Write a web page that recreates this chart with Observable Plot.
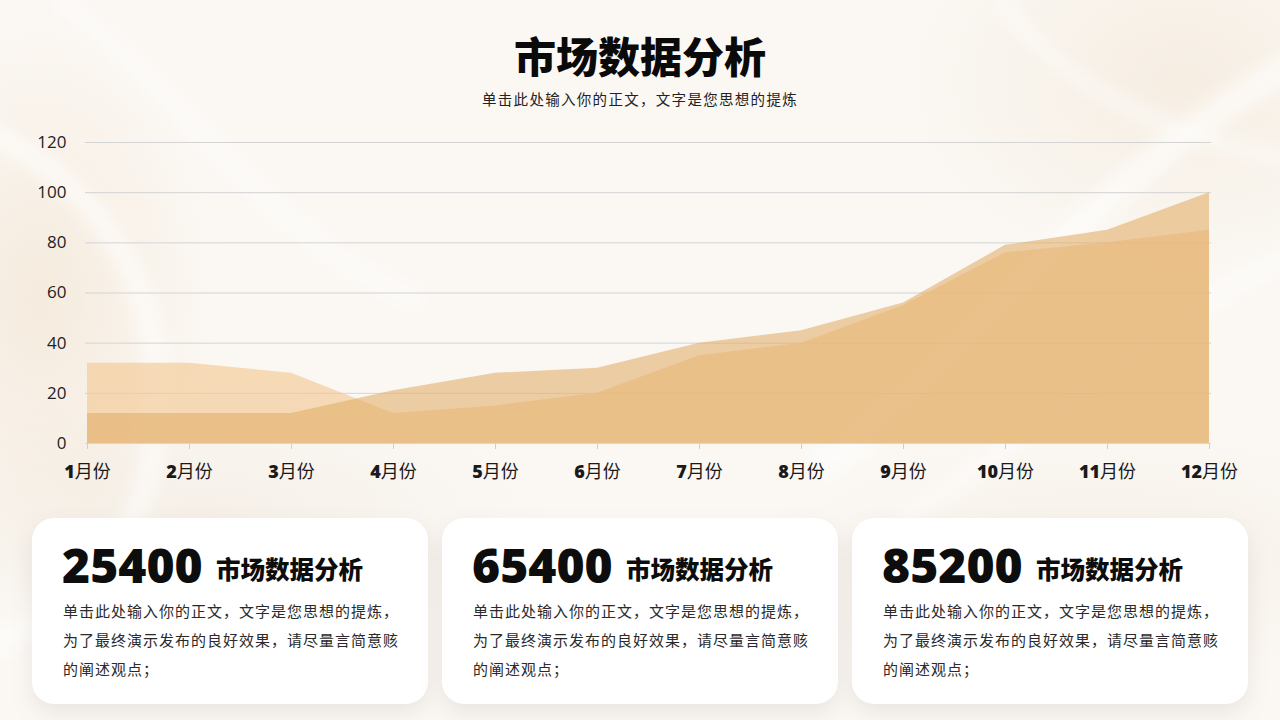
<!DOCTYPE html>
<html><head><meta charset="utf-8">
<script src="https://cdn.jsdelivr.net/npm/d3@7"></script>
<script src="https://cdn.jsdelivr.net/npm/@observablehq/plot@0.6"></script>
<style>
html,body{margin:0;padding:0;}
body{width:1280px;height:720px;overflow:hidden;position:relative;font-family:"Noto Sans CJK SC","Noto Sans",sans-serif;
 background:
  radial-gradient(ellipse 260px 420px at 40px 300px, rgba(240,222,200,0.5), rgba(240,222,200,0) 70%),
  radial-gradient(ellipse 420px 300px at 1180px 80px, rgba(240,225,205,0.45), rgba(240,225,205,0) 70%),
  radial-gradient(ellipse 500px 200px at 1100px 560px, rgba(240,228,212,0.4), rgba(240,228,212,0) 70%),
  radial-gradient(ellipse 500px 200px at 200px 520px, rgba(238,228,216,0.45), rgba(238,228,216,0) 70%),
  #fbf8f4;}
#bg{position:absolute;left:0;top:0;}
#title{position:absolute;left:0;width:1280px;top:27px;text-align:center;font-size:42px;font-weight:900;color:#0a0a0a;line-height:56px;}
#subtitle{position:absolute;left:0;width:1280px;top:88px;text-align:center;font-size:14.5px;letter-spacing:1.3px;color:#222;line-height:22px;}
#chart{position:absolute;left:0;top:120px;}
.card{position:absolute;top:518px;width:396px;height:186px;background:#fff;border-radius:22px;box-shadow:0 10px 22px rgba(120,110,100,0.13);}
.card .num{position:absolute;left:30px;top:19px;font-family:"Open Sans","Noto Sans CJK SC",sans-serif;font-weight:800;font-size:48px;color:#0d0d0d;line-height:56px;letter-spacing:0px;}
.card .ttl{position:absolute;left:184px;top:34px;font-weight:900;font-size:24.5px;color:#0d0d0d;line-height:34px;}
.card .body{position:absolute;left:31px;top:78px;font-size:15px;letter-spacing:1px;line-height:29px;color:#2a2a2a;white-space:nowrap;}
</style></head>
<body>
<svg id="bg" width="1280" height="720">
 <defs><filter id="blur"><feGaussianBlur stdDeviation="8"/></filter></defs>
 <g filter="url(#blur)" fill="none" stroke="#ffffff" stroke-opacity="0.55">
  <path d="M-40,120 C120,180 180,320 150,470 C130,560 60,620 -20,650" stroke-width="22"/>
  <path d="M60,0 C200,120 300,260 420,300" stroke-width="10"/>
  <path d="M820,470 C980,330 1120,160 1300,60" stroke-width="28"/>
  <path d="M900,520 C1060,420 1180,300 1300,250" stroke-width="14"/>
  <path d="M1000,0 C1060,80 1140,130 1290,160" stroke-width="12"/>
 </g>
</svg>
<div id="title">市场数据分析</div>
<div id="subtitle">单击此处输入你的正文，文字是您思想的提炼</div>
<div id="chart"></div>
<div id="cards"></div>
<script>
const months = ["1月份","2月份","3月份","4月份","5月份","6月份","7月份","8月份","9月份","10月份","11月份","12月份"];
const seriesA = [32,32,28,12,15,20,35,40,55,76,80,85];
const seriesB = [12,12,12,21,28,30,40,45,56,79,85,100];
const yTicks = [0,20,40,60,80,100,120];
const cardValues = ["25400","65400","85200"];
const cardTitles = ["市场数据分析","市场数据分析","市场数据分析"];
const cardLines = ["单击此处输入你的正文，文字是您思想的提炼，","为了最终演示发布的良好效果，请尽量言简意赅","的阐述观点；"];

const data = months.map((m,i)=>({month:m, a:seriesA[i], b:seriesB[i]}));

const chart = Plot.plot({
  width:1280, height:380,
  marginTop:22, marginBottom:57, marginLeft:85, marginRight:69,
  style:{background:"transparent", fontFamily:"'Open Sans','Noto Sans CJK SC',sans-serif", color:"#222", overflow:"visible"},
  x:{type:"point", domain:months, padding:0, label:null},
  y:{domain:[0,120], label:null},
  marks:[
    Plot.gridY(yTicks,{stroke:"#d4d4d4", strokeOpacity:1}),
    Plot.areaY(data,{x:"month", y:"a", fill:"rgb(243,202,149)", fillOpacity:0.65}),
    Plot.areaY(data,{x:"month", y:"b", fill:"rgb(226,175,107)", fillOpacity:0.6}),
    Plot.ruleY([0],{stroke:"#d8d8d8"}),
    Plot.axisY(yTicks,{tickSize:0, tickPadding:19, fontSize:17, fill:"#222", label:null}),
    Plot.axisX({tickSize:6, tickPadding:16, fontSize:18, stroke:"#cfcfcf", fill:"#1a1a1a", label:null})
  ]
});
document.getElementById("chart").appendChild(chart);

// bold digits in x tick labels
chart.querySelectorAll('[aria-label="x-axis tick label"] text').forEach(t=>{
  const s = t.textContent;
  const m = s.match(/^(\d+)(.*)$/);
  if(!m) return;
  t.textContent = "";
  const ns = "http://www.w3.org/2000/svg";
  const a = document.createElementNS(ns,"tspan");
  a.textContent = m[1];
  a.setAttribute("font-weight","800");
  a.setAttribute("font-family","'Open Sans',sans-serif");
  const b = document.createElementNS(ns,"tspan");
  b.textContent = m[2];
  b.setAttribute("font-family","'Noto Sans CJK SC',sans-serif");
  b.setAttribute("font-weight","400");
  t.appendChild(a); t.appendChild(b);
});

const cards = document.getElementById("cards");
cardValues.forEach((v,i)=>{
  const c = document.createElement("div");
  c.className="card";
  c.style.left = (32 + i*410) + "px";
  c.innerHTML = `<div class="num">${v}</div><div class="ttl">${cardTitles[i]}</div><div class="body">${cardLines.join("<br>")}</div>`;
  cards.appendChild(c);
});
</script>
</body></html>
